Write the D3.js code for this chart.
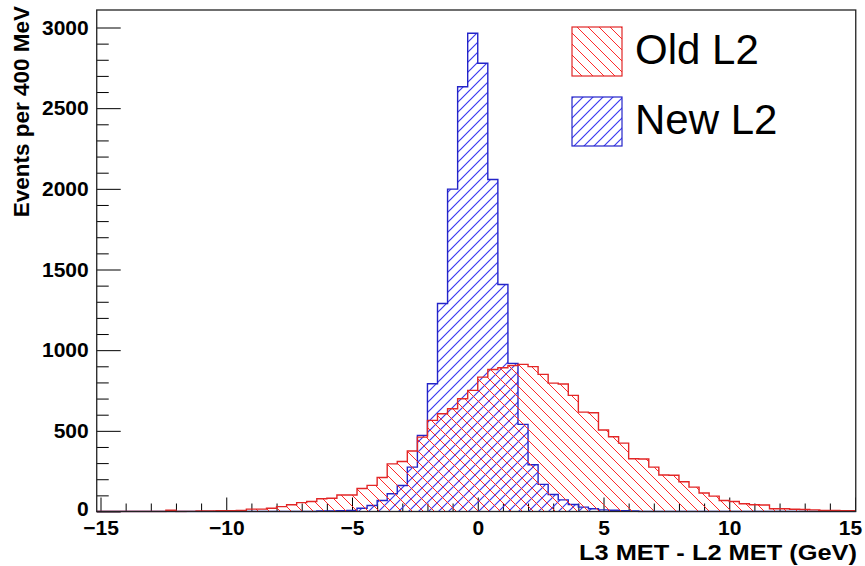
<!DOCTYPE html>
<html>
<head>
<meta charset="utf-8">
<script src="https://cdn.jsdelivr.net/npm/d3@7"></script>
<style>
  html, body { margin: 0; padding: 0; background: #fff; }
  svg { display: block; }
</style>
</head>
<body>
<svg id="chart" width="865" height="566"></svg>
<script>
// ---------------- data ----------------
const binStart = -15.2;      // lower edge of first bin (GeV)
const binWidth = 0.4;        // 400 MeV bins
const binCount = 76;
const binLowEdges = d3.range(binCount).map(i => +(binStart + binWidth * i).toFixed(1));

// Old L2 (red, \\\ hatch)
const oldL2 = [
  0, 0, 0, 0, 0, 0, 0, 8, 0, 1,
  4, 4, 5, 5, 6, 15, 15, 20, 30, 42,
  55, 62, 79, 82, 102, 102, 143, 162, 211, 295,
  310, 375, 461, 565, 606, 637, 699, 751, 833, 880,
  891, 905, 912, 898, 850, 796, 790, 720, 616, 612,
  505, 463, 424, 327, 325, 275, 226, 225, 184, 151,
  115, 95, 68, 62, 48, 42, 40, 17, 17, 14,
  12, 10, 7, 7, 5, 5
];
// New L2 (blue, /// hatch)
const newL2 = [
  0, 0, 0, 0, 0, 0, 0, 0, 0, 0,
  0, 0, 0, 0, 0, 0, 0, 0, 0, 0,
  0, 0, 3, 4, 5, 6, 20, 37, 68, 110,
  161, 275, 472, 792, 1289, 1998, 2633, 2964, 2778, 2058,
  1407, 918, 540, 290, 168, 105, 72, 43, 27, 17,
  10, 8, 5, 3, 0, 0, 0, 0, 0, 0,
  0, 0, 0, 0, 0, 0, 0, 0, 0, 0,
  0, 0, 0, 0, 0, 0
];

const seriesNames = ["Old L2", "New L2"];
const xMajorTicks = [-15, -10, -5, 0, 5, 10, 15];
const xMinorTicks = d3.range(-15, 16, 1);
const yMajorTicks = [0, 500, 1000, 1500, 2000, 2500, 3000];
const yMinorTicks = d3.range(0, 3001, 100);
const xTitle = "L3 MET - L2 MET (GeV)";
const yTitle = "Events per 400 MeV";

// ---------------- layout ----------------
const svg = d3.select("#chart");
const x = d3.scaleLinear().domain([-15, 15]).range([100.5, 855]);
const y = d3.scaleLinear().domain([0, 3000]).range([511.5, 27.5]);
const frameL = x(-15.15), frameR = x(15.03), frameT = 10, frameB = y(0);

const RED = "#e22626", BLUE = "#2424c8";
const RED_HATCH = "#ff2a2a", BLUE_HATCH = "#3a3af0";

const defs = svg.append("defs");
function hatch(id, color, dir, s, w) {
  const p = defs.append("pattern").attr("id", id)
    .attr("patternUnits", "userSpaceOnUse").attr("width", s).attr("height", s);
  const d = dir === "back"
    ? `M0,0L${s},${s} M-2,${s-2}L2,${s+2} M${s-2},-2L${s+2},2`
    : `M0,${s}L${s},0 M-2,2L2,-2 M${s-2},${s+2}L${s+2},${s-2}`;
  p.append("path").attr("d", d).attr("stroke", color).attr("stroke-width", w).attr("fill", "none");
}
hatch("hRed", RED_HATCH, "back", 11, 1);
hatch("hBlue", BLUE_HATCH, "fwd", 10, 1.2);

defs.append("clipPath").attr("id", "plotClip").append("rect")
  .attr("x", frameL).attr("y", frameT).attr("width", frameR - frameL).attr("height", frameB - frameT + 1);

const FONT = "'Liberation Sans', Arial, Helvetica, sans-serif";

// ticks (inside the frame)
const gy = svg.append("g").attr("transform", `translate(${frameL},0)`);
gy.call(d3.axisLeft(y).tickValues(yMinorTicks.filter(v => !yMajorTicks.includes(v))).tickSize(-12).tickFormat(""));
gy.call(g => g.select(".domain").remove());
const gyMaj = svg.append("g").attr("transform", `translate(${frameL},0)`);
gyMaj.call(d3.axisLeft(y).tickValues(yMajorTicks).tickSize(-24).tickPadding(8).tickFormat(d3.format("d")));
gyMaj.call(g => g.select(".domain").remove());
gyMaj.selectAll(".tick").filter(d => d === 0).select("text").attr("dy", "0.2em");

const gx = svg.append("g").attr("transform", `translate(0,${frameB})`);
gx.call(d3.axisBottom(x).tickValues(xMinorTicks.filter(v => !xMajorTicks.includes(v))).tickSize(-8).tickFormat(""));
gx.call(g => g.select(".domain").remove());
const gxMaj = svg.append("g").attr("transform", `translate(0,${frameB})`);
gxMaj.call(d3.axisBottom(x).tickValues(xMajorTicks).tickSize(-14).tickPadding(9).tickFormat(d3.format("d")));
gxMaj.call(g => g.select(".domain").remove());
gxMaj.selectAll(".tick").filter(d => d === 15).select("text").attr("dx", -5);

svg.selectAll(".tick line").attr("stroke", "#000").attr("stroke-width", 1);
svg.selectAll(".tick text")
  .attr("font-family", FONT)
  .attr("font-weight", "bold").attr("font-size", 21).attr("fill", "#000");

// histograms
function stepPoints(vals) {
  const pts = [[binLowEdges[0], 0]];
  vals.forEach((v, i) => {
    pts.push([binLowEdges[i], v]);
    pts.push([binLowEdges[i] + binWidth, v]);
  });
  pts.push([binLowEdges[binCount - 1] + binWidth, 0]);
  return pts;
}
const line = d3.line().x(d => x(d[0])).y(d => y(d[1]));
const plot = svg.append("g").attr("clip-path", "url(#plotClip)");
[[newL2, "hBlue", BLUE], [oldL2, "hRed", RED]].forEach(([vals, pat, col]) => {
  plot.append("path").attr("d", line(stepPoints(vals)) + "Z")
    .attr("fill", `url(#${pat})`).attr("stroke", "none");
  plot.append("path").attr("d", line(stepPoints(vals)))
    .attr("fill", "none").attr("stroke", col).attr("stroke-width", 1.4);
});

// frame
svg.append("rect").attr("x", frameL).attr("y", frameT)
  .attr("width", frameR - frameL).attr("height", frameB - frameT)
  .attr("fill", "none").attr("stroke", "#222").attr("stroke-width", 1.3);

// axis titles
svg.append("text").attr("x", 857).attr("y", 560).attr("text-anchor", "end")
  .attr("font-family", FONT).attr("font-weight", "bold")
  .attr("font-size", 22).attr("textLength", 278).attr("lengthAdjust", "spacingAndGlyphs")
  .text(xTitle);
svg.append("text").attr("transform", "translate(29,6) rotate(-90)").attr("text-anchor", "end")
  .attr("font-family", FONT).attr("font-weight", "bold")
  .attr("font-size", 22.5).text(yTitle);

// legend
const legend = svg.append("g");
const legItems = [[seriesNames[0], "hRed", RED], [seriesNames[1], "hBlue", BLUE]];
legItems.forEach(([name, pat, col], i) => {
  const ly = 27 + i * 70;
  legend.append("rect").attr("x", 572).attr("y", ly).attr("width", 50).attr("height", 49)
    .attr("fill", "#fff").attr("stroke", "none");
  legend.append("rect").attr("x", 572).attr("y", ly).attr("width", 50).attr("height", 49)
    .attr("fill", `url(#${pat})`).attr("stroke", col).attr("stroke-width", 1.2);
  legend.append("text").attr("x", 635).attr("y", ly + 36.5)
    .attr("font-family", FONT).attr("font-size", 42)
    .attr("fill", "#000").text(name);
});
</script>
</body>
</html>
